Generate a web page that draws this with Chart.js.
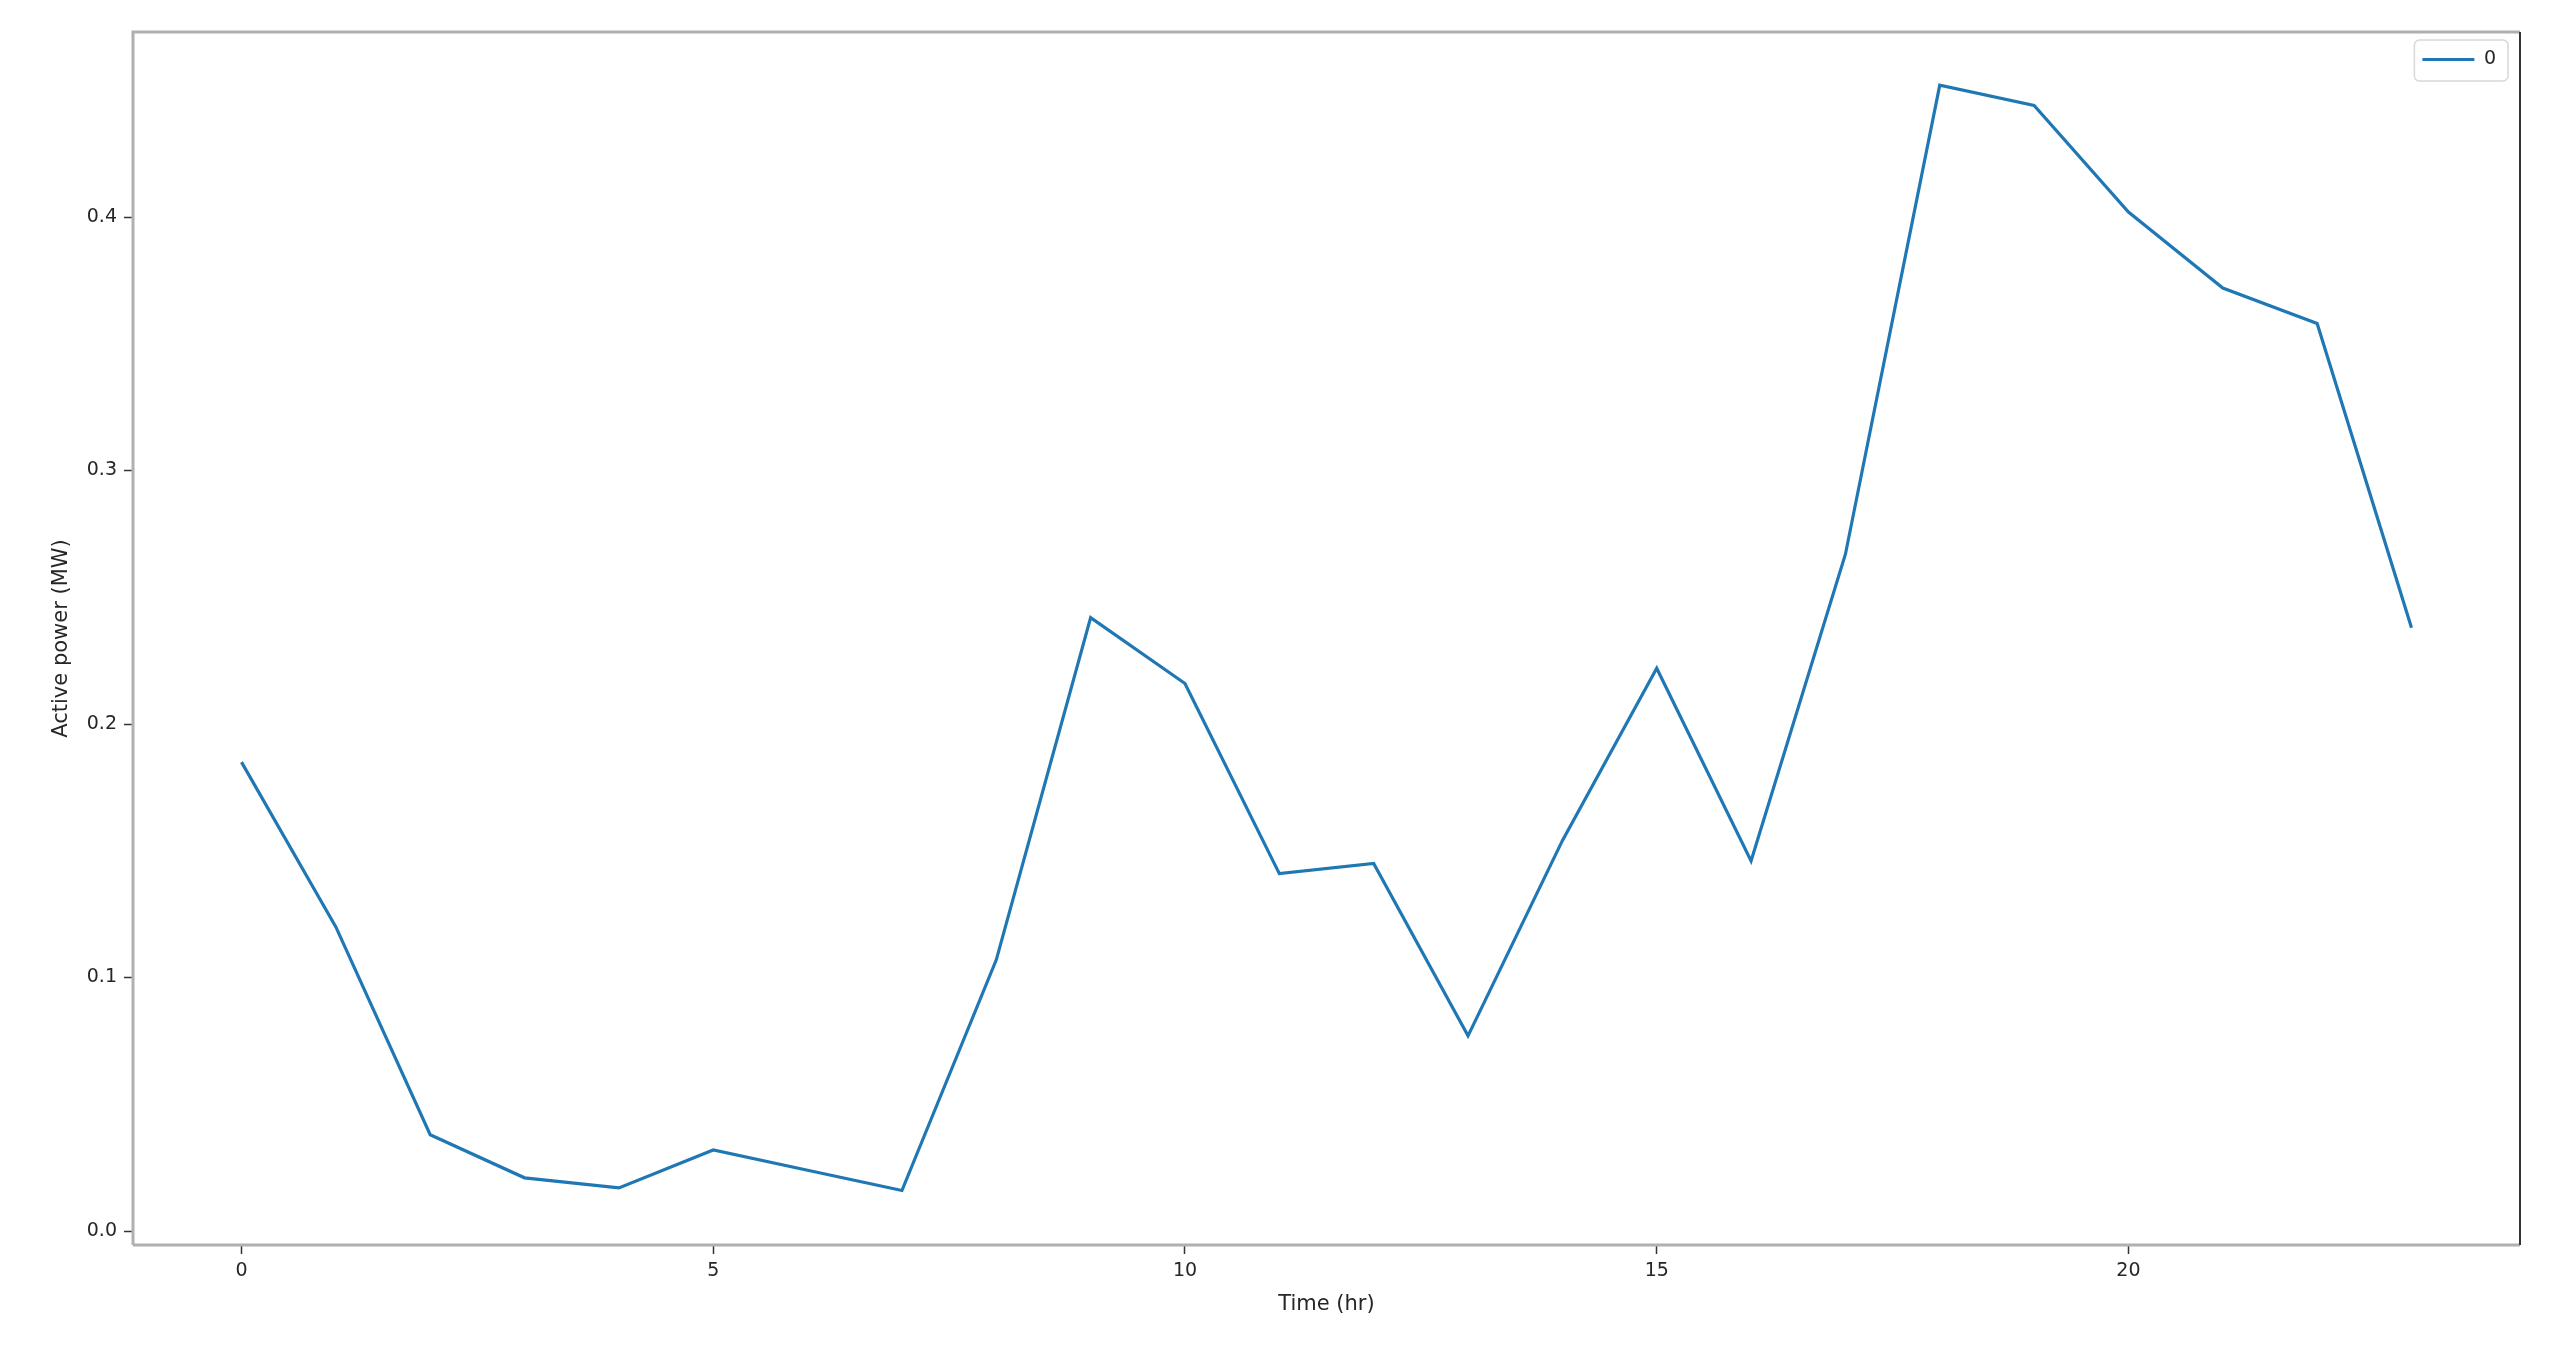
<!DOCTYPE html>
<html>
<head>
<meta charset="utf-8">
<title>Active power</title>
<script src="https://cdn.jsdelivr.net/npm/chart.js@4.4.0/dist/chart.umd.min.js"></script>
<style>
  html, body { margin: 0; padding: 0; background: #ffffff; }
  #wrap { width: 2558px; height: 1355px; }
</style>
</head>
<body>
<div id="wrap"><canvas id="myPower"></canvas></div>
<script>
// hourly values
const hours = [0, 1, 2, 3, 4, 5, 6, 7, 8, 9, 10, 11, 12, 13, 14, 15, 16, 17, 18, 19, 20, 21, 22, 23];
const activePower = [
  0.185, 0.120, 0.038, 0.021, 0.017, 0.032, 0.024, 0.016,
  0.107, 0.242, 0.216, 0.141, 0.145, 0.077, 0.154, 0.222,
  0.146, 0.267, 0.452, 0.444, 0.402, 0.372, 0.358, 0.238,
];
const seriesName = "0";
const xTitle = "Time (hr)";
const yTitle = "Active power (MW)";

const lineColor = "#1f77b4";
const textColor = "#262626";
const fontFamily = "'DejaVu Sans', sans-serif";

// frame round the plot area, legend moved to the top right corner with a box
const framePlugin = {
  id: "frame",
  afterLayout(chart) {
    const legend = chart.legend;
    if (!legend) return;
    const a = chart.chartArea;
    legend.left = a.right - legend.width - 14;
    legend.right = legend.left + legend.width;
    legend.top = a.top + 6;
    legend.bottom = legend.top + legend.height;
  },
  afterDraw(chart) {
    const ctx = chart.ctx;
    const a = chart.chartArea;
    ctx.save();
    ctx.lineWidth = 3;
    ctx.strokeStyle = "#b0b0b0";
    ctx.beginPath();
    ctx.moveTo(a.left, a.bottom);
    ctx.lineTo(a.left, a.top);
    ctx.lineTo(a.right, a.top);
    ctx.stroke();
    ctx.beginPath();
    ctx.moveTo(a.left, a.bottom);
    ctx.lineTo(a.right, a.bottom);
    ctx.stroke();
    ctx.strokeStyle = "#333333";
    ctx.lineWidth = 2;
    ctx.beginPath();
    ctx.moveTo(a.right, a.top);
    ctx.lineTo(a.right, a.bottom);
    ctx.stroke();

    const hb = chart.legend && chart.legend.legendHitBoxes && chart.legend.legendHitBoxes[0];
    if (hb) {
      ctx.strokeStyle = "#d8d8d8";
      ctx.lineWidth = 1.5;
      ctx.beginPath();
      ctx.roundRect(hb.left - 8, hb.top - 10, hb.width + 20, hb.height + 22, 5);
      ctx.stroke();
    }
    ctx.restore();
  },
};

const ctx1 = document.getElementById("myPower");

const myChart = new Chart(ctx1, {
  type: "line",
  data: {
    datasets: [
      {
        label: seriesName,
        data: hours.map((h, i) => ({ x: h, y: activePower[i] })),
        borderColor: lineColor,
        backgroundColor: lineColor,
        borderWidth: 3.2,
        pointRadius: 0,
        tension: 0,
        fill: false,
      },
    ],
  },
  options: {
    responsive: true,
    maintainAspectRatio: false,
    animation: false,
    layout: {
      padding: { top: 32, right: 38, left: 0, bottom: 0 },
    },
    plugins: {
      tooltip: { enabled: false },
      legend: {
        position: "chartArea",
        align: "start",
        labels: {
          usePointStyle: true,
          pointStyle: "line",
          pointStyleWidth: 52,
          padding: 12,
          color: textColor,
          font: { family: fontFamily, size: 19 },
        },
      },
    },
    scales: {
      x: {
        type: "linear",
        min: -1.15,
        max: 24.15,
        afterFit: (scale) => {
          scale.height = 110;
        },
        border: { display: false },
        grid: {
          drawOnChartArea: false,
          drawTicks: true,
          tickLength: 9,
          tickWidth: 1.5,
          tickColor: "#333333",
        },
        ticks: {
          stepSize: 5,
          includeBounds: false,
          padding: 6,
          maxRotation: 0,
          color: textColor,
          font: { family: fontFamily, size: 19 },
        },
        title: {
          display: true,
          text: xTitle,
          color: textColor,
          font: { family: fontFamily, size: 21 },
          padding: { top: 0, bottom: 38 },
        },
      },
      y: {
        min: -0.0055,
        max: 0.473,
        afterFit: (scale) => {
          scale.width = 133;
        },
        border: { display: false },
        grid: {
          drawOnChartArea: false,
          drawTicks: true,
          tickLength: 9,
          tickWidth: 1.5,
          tickColor: "#333333",
        },
        ticks: {
          stepSize: 0.1,
          includeBounds: false,
          padding: 7,
          color: textColor,
          font: { family: fontFamily, size: 19 },
          callback: (v) => v.toFixed(1),
        },
        title: {
          display: true,
          text: yTitle,
          color: textColor,
          font: { family: fontFamily, size: 21 },
          padding: { top: 49, bottom: 0 },
        },
      },
    },
  },
  plugins: [framePlugin],
});
</script>
</body>
</html>
